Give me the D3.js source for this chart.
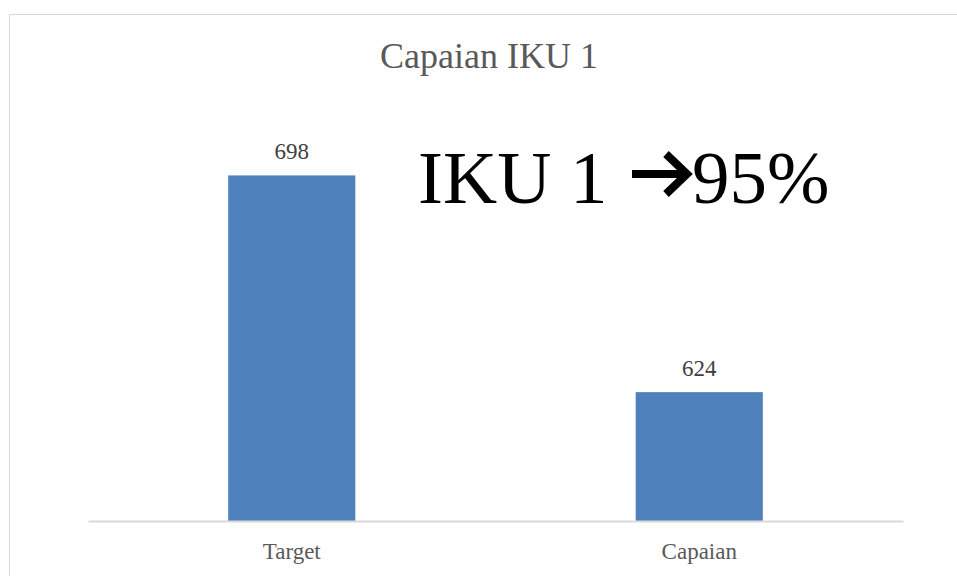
<!DOCTYPE html>
<html>
<head>
<meta charset="utf-8">
<script src="https://cdn.jsdelivr.net/npm/d3@7"></script>
<style>
  body { margin: 0; background: #fff; }
</style>
</head>
<body>
<script>
// chart data
var categories = ['Target', 'Capaian'];
var values = [698, 624];
var chartTitle = 'Capaian IKU 1';
var noteLeft = 'IKU 1';
var noteRight = '95%';

var W = 957, H = 576;
var plotLeft = 88, plotRight = 903;
var baseY = 521, topY = 111;
var serif = '"Liberation Serif", "Times New Roman", serif';

var svg = d3.select('body').append('svg')
  .attr('width', W)
  .attr('height', H);

svg.append('rect')
  .attr('width', W).attr('height', H)
  .attr('fill', '#fff');

// chart border (runs off the picture at right/bottom)
svg.append('rect')
  .attr('x', 9.5).attr('y', 14.5)
  .attr('width', 960).attr('height', 580)
  .attr('fill', 'none')
  .attr('stroke', '#d9d9d9');

svg.append('text')
  .text(chartTitle)
  .attr('x', 489).attr('y', 68)
  .attr('text-anchor', 'middle')
  .style('font-family', serif)
  .style('font-size', '36px')
  .style('fill', '#595959');

var x = d3.scaleBand()
  .domain(categories)
  .range([plotLeft, plotRight])
  .paddingInner(0.688)
  .paddingOuter(0.344);

// value axis is hidden, it starts above 0
var y = d3.scaleLinear()
  .domain([580, 720])
  .range([baseY, topY]);

svg.selectAll('.bar')
  .data(values)
  .enter()
  .append('rect')
  .attr('class', 'bar')
  .attr('x', (d, i) => x(categories[i]))
  .attr('y', d => y(d))
  .attr('width', x.bandwidth())
  .attr('height', d => baseY - y(d))
  .attr('fill', '#4f81bd');

svg.selectAll('.val')
  .data(values)
  .enter()
  .append('text')
  .attr('class', 'val')
  .text(d => d)
  .attr('x', (d, i) => x(categories[i]) + x.bandwidth() / 2)
  .attr('y', d => y(d) - 16)
  .attr('text-anchor', 'middle')
  .style('font-family', serif)
  .style('font-size', '23px')
  .style('fill', '#404040');

var xAxis = d3.axisBottom(x).tickSize(0).tickPadding(22);

var gx = svg.append('g')
  .attr('transform', 'translate(0,' + baseY + ')')
  .call(xAxis);
gx.select('.domain').attr('stroke', '#d9d9d9').attr('stroke-width', 2);
gx.selectAll('text')
  .style('font-family', serif)
  .style('font-size', '23px')
  .style('fill', '#595959');

// big note: "IKU 1 -> 95%"
var noteY = 203;
svg.append('text')
  .text(noteLeft)
  .attr('x', 418).attr('y', noteY)
  .style('font-family', serif)
  .style('font-size', '75px')
  .style('fill', '#000');

svg.append('path')
  .attr('d', 'M632,174 H686 M666,154 L687,174 L666,194')
  .attr('fill', 'none')
  .attr('stroke', '#000')
  .attr('stroke-width', 8)
  .attr('stroke-linejoin', 'miter');

svg.append('text')
  .text(noteRight)
  .attr('x', 692).attr('y', noteY)
  .style('font-family', serif)
  .style('font-size', '75px')
  .style('fill', '#000');
</script>
</body>
</html>
